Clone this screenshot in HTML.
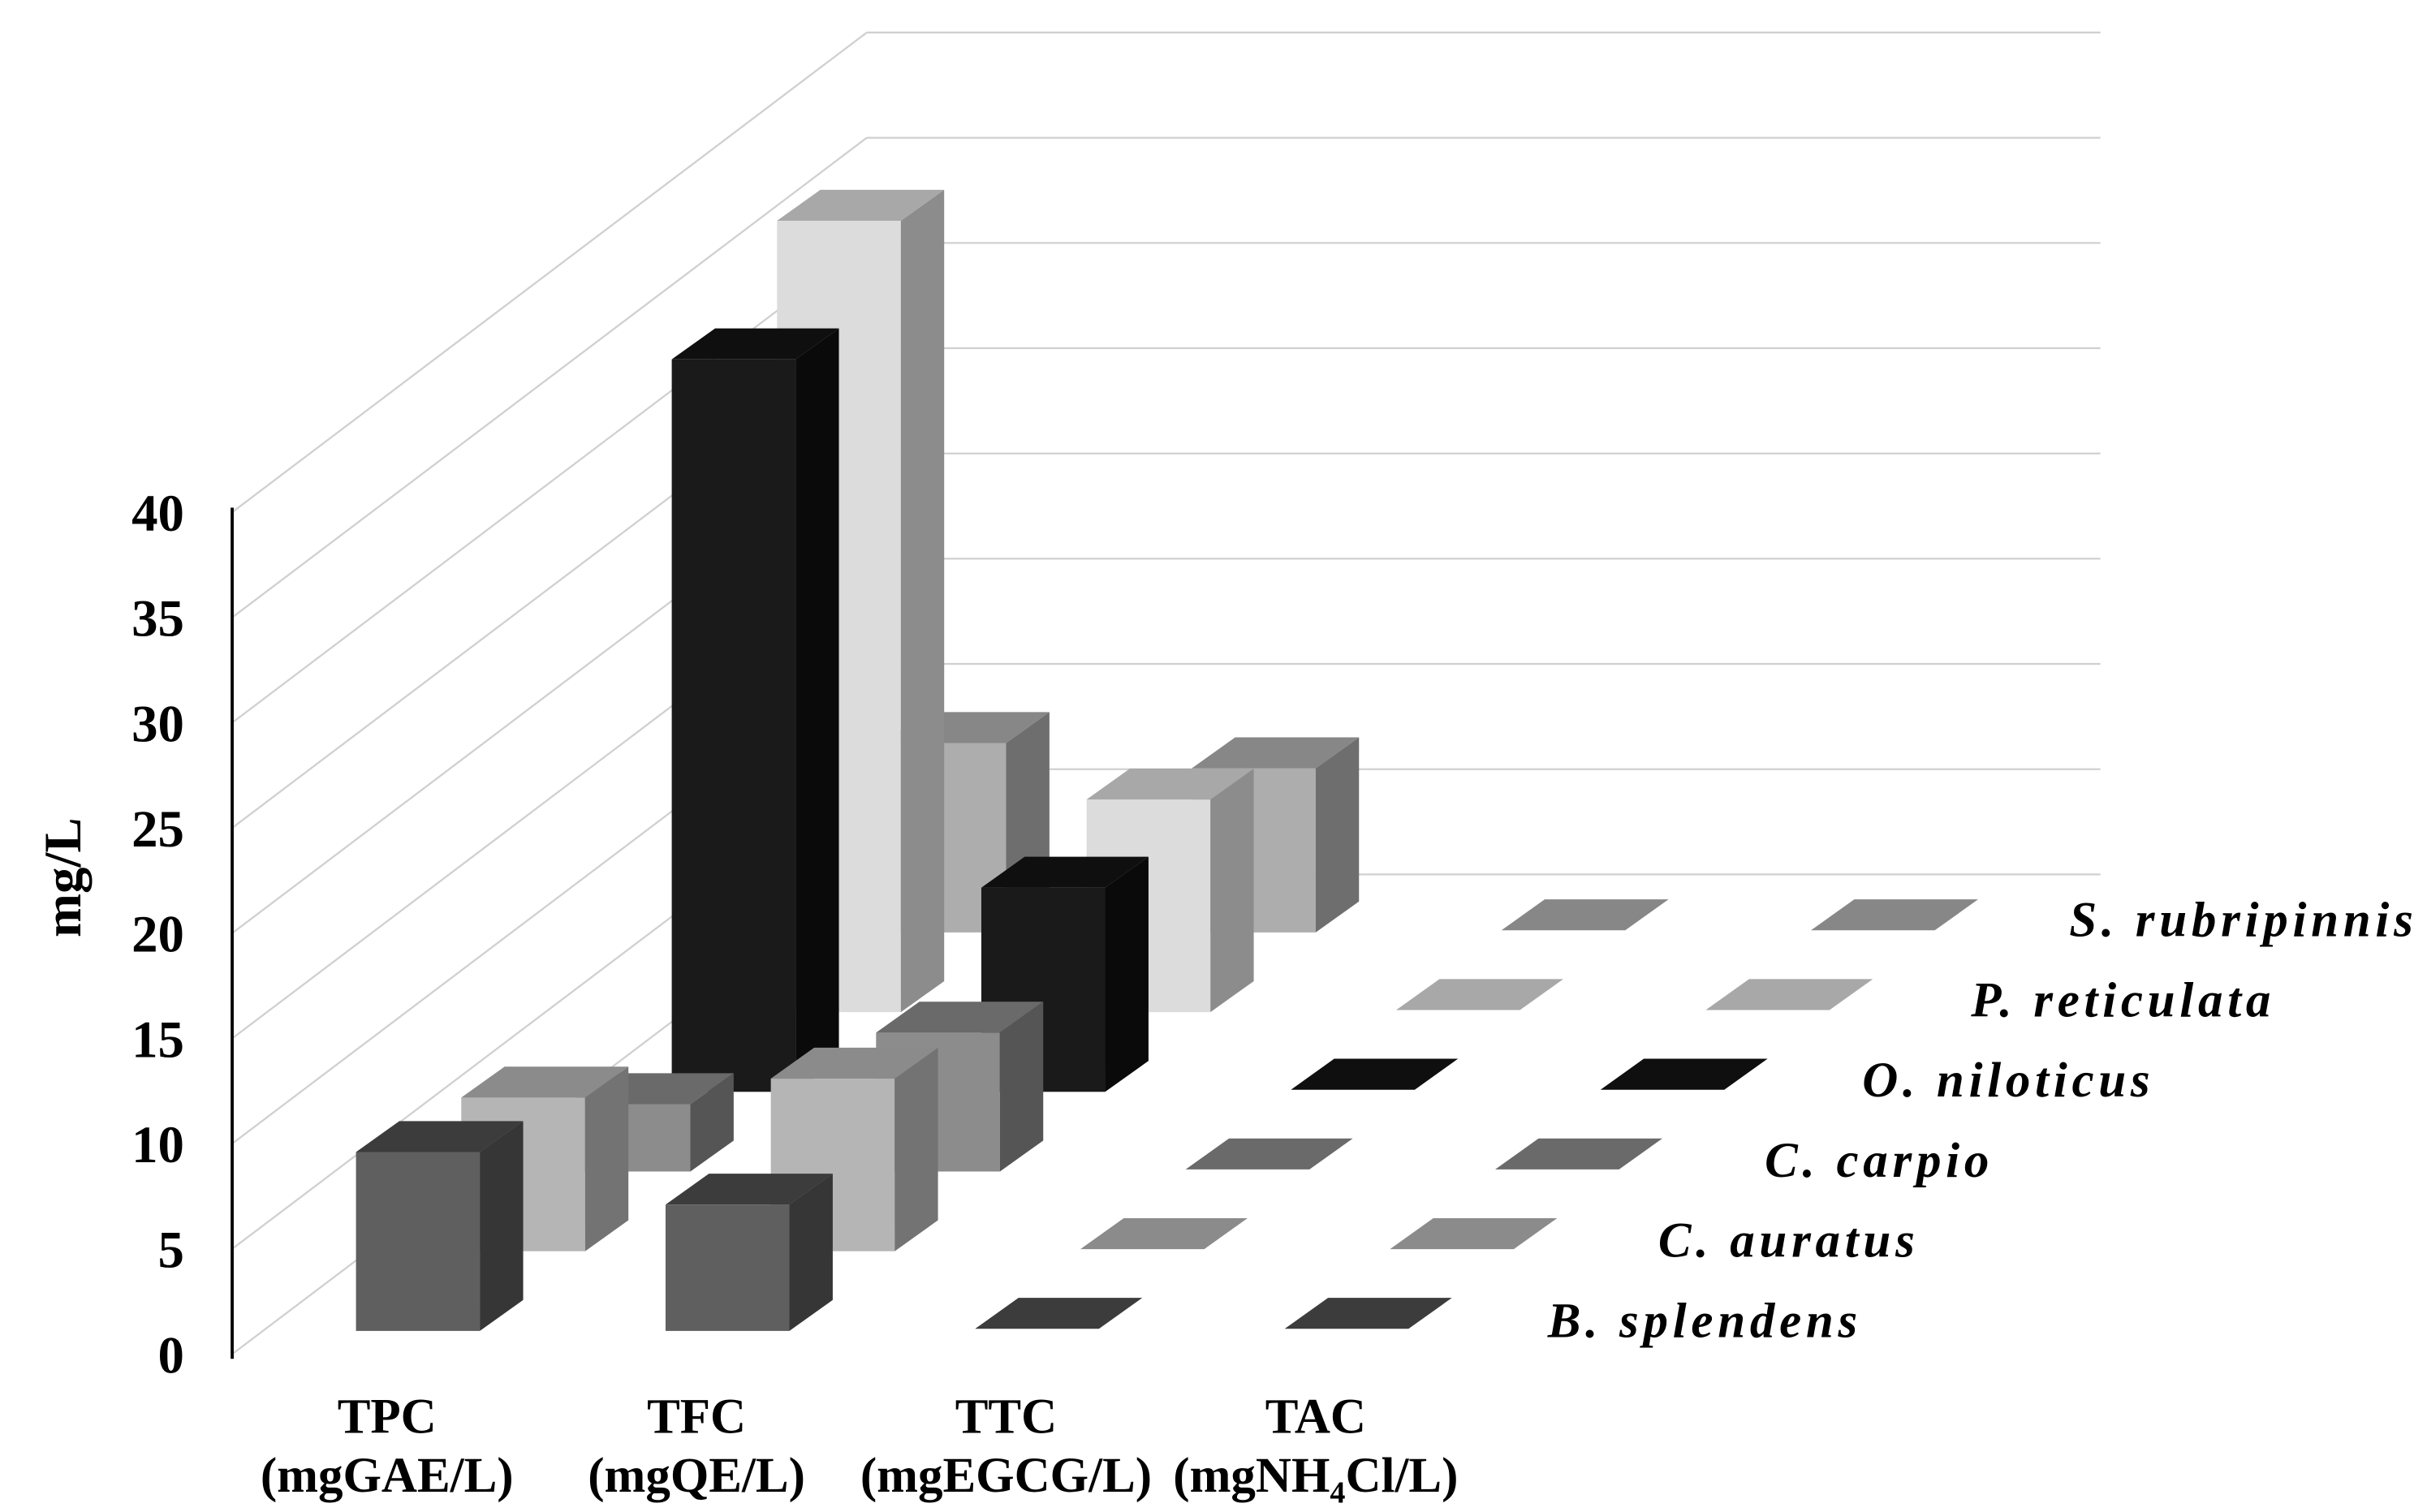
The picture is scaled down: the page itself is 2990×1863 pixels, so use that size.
<!DOCTYPE html>
<html><head><meta charset="utf-8"><style>html,body{margin:0;padding:0;background:#fff}svg{display:block}</style></head>
<body>
<svg id="chart" width="2990" height="1863" viewBox="0 0 1568 977" preserveAspectRatio="none" xmlns="http://www.w3.org/2000/svg" font-family="'Liberation Serif', serif" font-weight="bold"></svg>
<script>
const categories = ["TPC", "TFC", "TTC", "TAC"];
const categoryUnits = ["(mgGAE/L)", "(mgQE/L)", "(mgEGCG/L)", "(mgNH4Cl/L)"];
const seriesNames = ["B. splendens", "C. auratus", "C. carpio", "O. niloticus", "P. reticulata", "S. rubripinnis"];
const bSplendens = [8.5, 6.0, 0.1, 0.1];
const cAuratus = [7.3, 8.2, 0.1, 0.1];
const cCarpio = [3.2, 6.6, 0.1, 0.1];
const oNiloticus = [34.8, 9.7, 0.1, 0.1];
const pReticulata = [37.6, 10.1, 0.1, 0.1];
const sRubripinnis = [9.0, 7.8, 0.1, 0.1];
const yTicks = [0, 5, 10, 15, 20, 25, 30, 35, 40];

const seriesValues = [bSplendens, cAuratus, cCarpio, oNiloticus, pReticulata, sRubripinnis];
const colors = [
  ["#5f5f5f", "#3c3c3c", "#363636"],
  ["#b5b5b5", "#8b8b8b", "#737373"],
  ["#8c8c8c", "#6a6a6a", "#555555"],
  ["#1a1a1a", "#0f0f0f", "#0a0a0a"],
  ["#dcdcdc", "#a8a8a8", "#8c8c8c"],
  ["#adadad", "#878787", "#6e6e6e"]
];
const svg = document.getElementById('chart');
const NS = "http://www.w3.org/2000/svg";
const Y0 = 875, UNIT = 13.6, DX = 410, DY = 310;
function yScale(v) { return Y0 - v * UNIT; }
function rowOffset(i) { return [i * 68, -i * 51.5]; }
function catX(j) { return 230 + j * 200; }
function el(tag, attrs, parent) {
  const e = document.createElementNS(NS, tag);
  for (const k in attrs) e.setAttribute(k, attrs[k]);
  (parent || svg).appendChild(e);
  return e;
}
yTicks.forEach(t => {
  const y = yScale(t);
  const l1 = el('line', {x1: 150, y1: y, x2: 150 + DX, y2: y - DY, stroke: '#d0d0d0', 'stroke-width': 1.2});
  
  
  const l2 = el('line', {x1: 150 + DX, y1: y - DY, x2: 1357, y2: y - DY, stroke: '#d0d0d0', 'stroke-width': 1.2});
  
  
  const tx = el('text', {x: 119, y: y + 12, 'text-anchor': 'end', 'font-size': 34, fill: '#000'});
  tx.textContent = t;
  
  
});
const ax = el('line', {x1: 150, y1: 328, x2: 150, y2: 878, stroke: '#000', 'stroke-width': 2});


const yt = el('text', {x: 0, y: 0, transform: 'translate(52,567) rotate(-90)', 'text-anchor': 'middle', 'font-size': 34, fill: '#000'});
yt.textContent = 'mg/L';


const W = 80, SX = 28, SY = 20;
for (let i = seriesValues.length - 1; i >= 0; i--) {
  const [ox, oy] = rowOffset(i);
  seriesValues[i].forEach((v, j) => {
    const x = catX(j) + ox, yb = Y0 - 15 + oy, yt2 = yb - v * UNIT;
    const g = el('g', {});
    
    
    const h = yb - yt2;
    if (h > 2) {
      el('rect', {x: x, y: yt2, width: W, height: h, fill: colors[i][0]}, g);
      el('polygon', {points: `${x+W},${yt2} ${x+W+SX},${yt2-SY} ${x+W+SX},${yb-SY} ${x+W},${yb}`, fill: colors[i][2]}, g);
    }
    el('polygon', {points: `${x},${yt2} ${x+W},${yt2} ${x+W+SX},${yt2-SY} ${x+SX},${yt2-SY}`, fill: colors[i][1]}, g);
  });
}
categories.forEach((c, j) => {
  const cx = catX(j) + 20;
  const t1 = el('text', {x: cx, y: 926, 'text-anchor': 'middle', 'font-size': 32, fill: '#000'});
  t1.textContent = c;
  
  
  const t2 = el('text', {x: cx, y: 964, 'text-anchor': 'middle', 'font-size': 32, fill: '#000'});
  
  
  const u = categoryUnits[j];
  if (u.indexOf('NH4') >= 0) {
    t2.appendChild(document.createTextNode('(mgNH'));
    const s = document.createElementNS(NS, 'tspan');
    s.setAttribute('font-size', 20); s.setAttribute('dy', 7); s.textContent = '4';
    t2.appendChild(s);
    const s2 = document.createElementNS(NS, 'tspan');
    s2.setAttribute('dy', -7); s2.textContent = 'Cl/L)';
    t2.appendChild(s2);
  } else t2.textContent = u;
});
const labelRight = [1203, 1240, 1288, 1392, 1470, 1562];
seriesNames.forEach((n, i) => {
  const t = el('text', {x: labelRight[i], y: 864 - i * 51.8, 'text-anchor': 'end', 'font-size': 32, 'letter-spacing': 3, 'font-style': 'italic', fill: '#000'});
  t.textContent = n;
  
  
});
</script>
</body></html>
